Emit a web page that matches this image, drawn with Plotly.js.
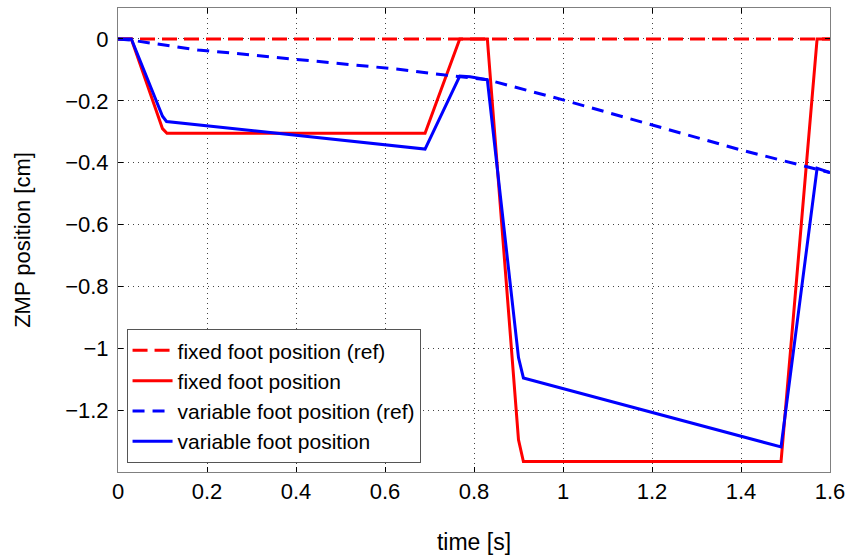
<!DOCTYPE html>
<html>
<head>
<meta charset="utf-8">
<script src="https://cdn.plot.ly/plotly-3.0.1.min.js"></script>
<style>html,body{margin:0;padding:0;background:#fff;}#chart{width:848px;height:555px;}</style>
</head>
<body>
<div id="chart"></div>
<script>
// Data
const fixedRefX = [0, 1.6];
const fixedRefY = [0, 0];

const fixedX = [0, 0.03, 0.1, 0.11, 0.69, 0.768, 0.83, 0.9, 0.911, 1.49, 1.571, 1.6];
const fixedY = [0, 0, -0.29, -0.305, -0.305, 0, 0, -1.296, -1.366, -1.366, 0, 0];

const varRefX = [0, 0.03, 0.18, 0.26, 0.4, 0.63, 0.73, 0.83, 1.0, 1.2, 1.4, 1.6];
const varRefY = [0, -0.004, -0.036, -0.046, -0.066, -0.098, -0.116, -0.132, -0.197, -0.278, -0.359, -0.432];

const varX = [0, 0.03, 0.1, 0.109, 0.69, 0.768, 0.791, 0.83, 0.9, 0.911, 1.49, 1.571, 1.6];
const varY = [0, 0, -0.25, -0.267, -0.356, -0.12, -0.122, -0.132, -1.03, -1.096, -1.319, -0.418, -0.432];

const seriesNames = ["fixed foot position (ref)", "fixed foot position", "variable foot position (ref)", "variable foot position"];

const xTickVals = [0, 0.2, 0.4, 0.6, 0.8, 1, 1.2, 1.4, 1.6];
const xTickText = ["0", "0.2", "0.4", "0.6", "0.8", "1", "1.2", "1.4", "1.6"];
const yTickVals = [0, -0.2, -0.4, -0.6, -0.8, -1, -1.2];
const yTickText = ["0", "\u22120.2", "\u22120.4", "\u22120.6", "\u22120.8", "\u22121", "\u22121.2"];

const FONT = "Liberation Sans, Arial, sans-serif";

const traces = [
  {x: fixedRefX, y: fixedRefY, name: seriesNames[0], mode: "lines",
   line: {color: "#ff0000", width: 3, dash: "15px,7px"}},
  {x: fixedX, y: fixedY, name: seriesNames[1], mode: "lines",
   line: {color: "#ff0000", width: 3}},
  {x: varRefX, y: varRefY, name: seriesNames[2], mode: "lines",
   line: {color: "#0000ff", width: 3, dash: "12px,8px"}},
  {x: varX, y: varY, name: seriesNames[3], mode: "lines",
   line: {color: "#0000ff", width: 3}}
];

const axisCommon = {
  showgrid: true, gridcolor: "#444", gridwidth: 1, griddash: "1px,4px",
  zeroline: false, showline: true, linecolor: "#808080", linewidth: 1,
  mirror: "ticks", ticks: "inside", ticklen: 5, tickcolor: "#000",
  tickfont: {family: FONT, size: 22, color: "#000"}
};

const layout = {
  width: 848, height: 555,
  margin: {l: 118, r: 18, t: 8, b: 83},
  paper_bgcolor: "#fff", plot_bgcolor: "#fff",
  showlegend: true,
  xaxis: Object.assign({}, axisCommon, {
    range: [0, 1.6], tickmode: "array", tickvals: xTickVals, ticktext: xTickText,
    title: {text: "time [s]", standoff: 30, font: {family: FONT, size: 23, color: "#000"}},
    automargin: false
  }),
  yaxis: Object.assign({}, axisCommon, {
    range: [-1.4, 0.1], tickmode: "array", tickvals: yTickVals, ticktext: yTickText,
    ticklabelstandoff: 4,
    title: {text: "ZMP position [cm]", standoff: 28, font: {family: FONT, size: 22, color: "#000"}},
    automargin: false
  }),
  legend: {
    x: 0.012, y: 0.019, xanchor: "left", yanchor: "bottom",
    bgcolor: "#fff", bordercolor: "#555", borderwidth: 1,
    font: {family: FONT, size: 21, color: "#000"},
    tracegroupgap: 0, itemwidth: 40
  }
};

Plotly.newPlot("chart", traces, layout, {staticPlot: true, displayModeBar: false});
</script>
</body>
</html>
